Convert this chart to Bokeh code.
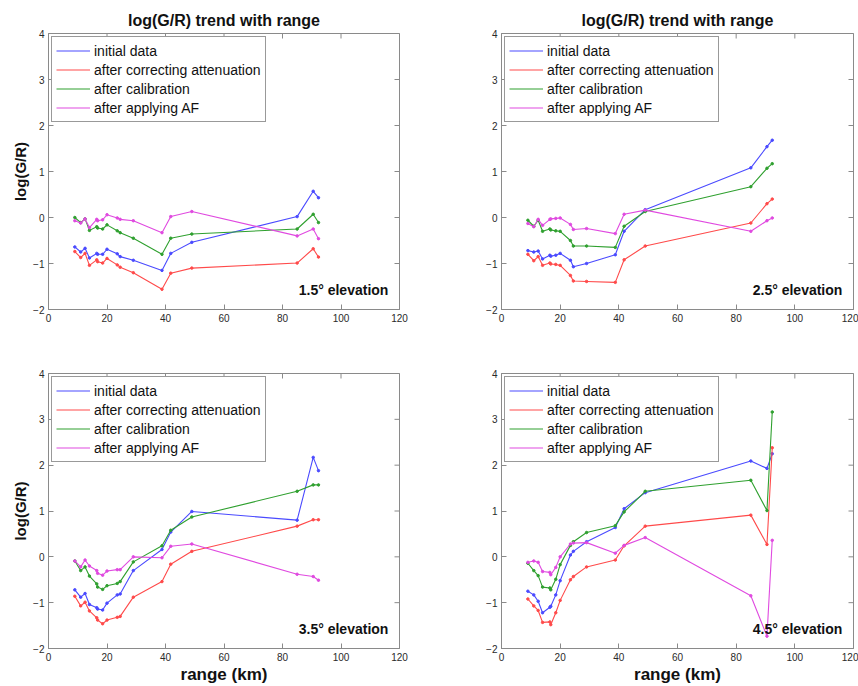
import math
from bokeh.plotting import figure
from bokeh.layouts import gridplot
from bokeh.models import Range1d, Label, Legend, LegendItem, FixedTicker
from bokeh.embed import file_html
from bokeh.resources import INLINE

# ---------------- data ----------------
range_km = [9, 11, 12.5, 14, 16.5, 16.8, 18.5, 20, 23.5, 24.5, 29, 38.8, 41.8, 49, 85, 90.5, 92.3]

series_names = ["initial data", "after correcting attenuation", "after calibration", "after applying AF"]
elevations = ["1.5° elevation", "2.5° elevation", "3.5° elevation", "4.5° elevation"]

e15_initial = [-0.64, -0.75, -0.67, -0.88, -0.78, -0.80, -0.80, -0.69, -0.79, -0.85, -0.93, -1.15, -0.78, -0.54, 0.02, 0.57, 0.43]
e15_atten = [-0.74, -0.87, -0.78, -1.04, -0.92, -0.96, -0.99, -0.89, -1.03, -1.08, -1.20, -1.56, -1.21, -1.10, -0.99, -0.68, -0.86]
e15_calib = [0.00, -0.11, -0.03, -0.28, -0.20, -0.23, -0.25, -0.16, -0.29, -0.33, -0.45, -0.80, -0.45, -0.36, -0.25, 0.07, -0.11]
e15_af = [-0.07, -0.12, -0.03, -0.22, -0.04, -0.07, -0.05, 0.06, -0.01, -0.04, -0.07, -0.33, 0.02, 0.13, -0.40, -0.25, -0.46]

e25_initial = [-0.72, -0.75, -0.73, -0.90, -0.82, -0.84, -0.82, -0.78, -0.93, -1.07, -1.00, -0.81, -0.30, 0.17, 1.08, 1.54, 1.68]
e25_atten = [-0.80, -0.94, -0.85, -1.04, -0.99, -1.01, -1.02, -1.04, -1.26, -1.38, -1.39, -1.41, -0.92, -0.62, -0.12, 0.30, 0.40]
e25_calib = [-0.06, -0.19, -0.06, -0.30, -0.25, -0.27, -0.29, -0.30, -0.50, -0.62, -0.62, -0.65, -0.19, 0.13, 0.67, 1.07, 1.17]
e25_af = [-0.13, -0.20, -0.04, -0.17, -0.04, -0.03, -0.02, -0.01, -0.15, -0.26, -0.24, -0.35, 0.07, 0.16, -0.30, -0.07, -0.01]

e35_initial = [-0.72, -0.88, -0.80, -1.04, -1.11, -1.14, -1.16, -1.01, -0.83, -0.81, -0.30, 0.16, 0.54, 0.99, 0.80, 2.17, 1.88]
e35_atten = [-0.86, -1.07, -0.99, -1.18, -1.33, -1.38, -1.46, -1.38, -1.32, -1.30, -0.88, -0.54, -0.16, 0.12, 0.67, 0.81, 0.81]
e35_calib = [-0.09, -0.30, -0.22, -0.42, -0.59, -0.66, -0.71, -0.63, -0.58, -0.54, -0.11, 0.24, 0.58, 0.87, 1.43, 1.57, 1.57]
e35_af = [-0.09, -0.22, -0.07, -0.20, -0.30, -0.36, -0.40, -0.31, -0.28, -0.28, 0.00, -0.02, 0.23, 0.28, -0.38, -0.43, -0.51]

e45_initial = [-0.75, -0.83, -0.97, -1.22, -1.10, -1.08, -0.83, -0.52, 0.04, 0.12, 0.33, 0.64, 1.05, 1.40, 2.09, 1.93, 2.25]
e45_atten = [-0.92, -1.07, -1.17, -1.43, -1.42, -1.48, -1.22, -0.95, -0.50, -0.43, -0.22, -0.07, 0.24, 0.67, 0.91, 0.27, 2.38]
e45_calib = [-0.14, -0.30, -0.41, -0.66, -0.68, -0.72, -0.49, -0.17, 0.25, 0.33, 0.53, 0.68, 0.98, 1.43, 1.67, 1.01, 3.16]
e45_af = [-0.12, -0.09, -0.12, -0.32, -0.34, -0.39, -0.23, 0.00, 0.28, 0.30, 0.31, 0.08, 0.25, 0.42, -0.85, -1.73, 0.36]

x_ticks = [0, 20, 40, 60, 80, 100, 120]
y_ticks = [-2, -1, 0, 1, 2, 3, 4]

# ---------------- style ----------------
FONT = "Liberation Sans"
COLORS = ["#4a4aff", "#ff4a4a", "#2fa02f", "#e04ae0"]
AXIS_COL = "#8a8a8a"
TEXT_COL = "#2a2a2a"


def style_axis(ax, ticks):
    ax.ticker = FixedTicker(ticks=ticks)
    ax.axis_line_color = AXIS_COL
    ax.major_tick_line_color = AXIS_COL
    ax.major_tick_in = 5
    ax.major_tick_out = 0
    ax.minor_tick_line_color = None
    ax.major_label_text_font = FONT
    ax.major_label_text_font_size = "10px"
    ax.major_label_text_color = TEXT_COL
    ax.major_label_standoff = 4


def make_panel(idx, data, width, height, mb_left, mb_right, mb_top, mb_bottom,
               title=None, ylabel=None, xlabel=None):
    p = figure(width=width, height=height, output_backend="svg", toolbar_location=None,
               x_range=Range1d(0, 120), y_range=Range1d(-2, 4),
               min_border_left=mb_left, min_border_right=mb_right,
               min_border_top=mb_top, min_border_bottom=mb_bottom,
               title=title)
    p.xgrid.visible = False
    p.ygrid.visible = False
    p.outline_line_color = AXIS_COL
    p.background_fill_color = "white"
    p.border_fill_color = "white"
    if title:
        p.title.align = "center"
        p.title.text_font = FONT
        p.title.text_font_size = "16px"
        p.title.text_font_style = "bold"
        p.title.text_color = "#111111"
        p.title.standoff = 9
    style_axis(p.xaxis[0], x_ticks)
    style_axis(p.yaxis[0], y_ticks)
    if ylabel:
        p.yaxis.axis_label = ylabel
        p.yaxis.axis_label_text_font = FONT
        p.yaxis.axis_label_text_font_size = "15px"
        p.yaxis.axis_label_text_font_style = "bold"
        p.yaxis.axis_label_text_color = "#111111"
        p.yaxis.axis_label_standoff = 1
    if xlabel:
        p.xaxis.axis_label = xlabel
        p.xaxis.axis_label_text_font = FONT
        p.xaxis.axis_label_text_font_size = "17px"
        p.xaxis.axis_label_text_font_style = "bold"
        p.xaxis.axis_label_text_color = "#111111"
        p.xaxis.axis_label_standoff = 1

    # inward ticks on the top and right edges of the box (clipped to the frame)
    p.scatter(x_ticks, [4] * len(x_ticks), marker="dash", angle=math.pi / 2, size=10,
              line_color=AXIS_COL, line_width=1)
    p.scatter([120] * len(y_ticks), y_ticks, marker="dash", size=10,
              line_color=AXIS_COL, line_width=1)

    items = []
    for name, ys, col in zip(series_names, data, COLORS):
        lr = p.line(range_km, ys, line_color=col, line_width=1.1)
        p.scatter(range_km, ys, size=2.5, fill_color=col, line_color=col)
        items.append(LegendItem(label=name, renderers=[lr]))
    legend = Legend(items=items, location="top_left")
    legend.margin = 3
    legend.padding = 4
    legend.spacing = 0
    legend.label_height = 19
    legend.glyph_height = 19
    legend.glyph_width = 34
    legend.label_standoff = 4
    legend.label_text_font = FONT
    legend.label_text_font_size = "14px"
    legend.label_text_color = "#111111"
    legend.border_line_color = "#333333"
    legend.border_line_width = 1
    legend.background_fill_alpha = 1.0
    p.add_layout(legend)

    p.add_layout(Label(x=116.2, y=-1.57, text=elevations[idx], text_align="right",
                       text_baseline="middle", text_font=FONT, text_font_size="14px",
                       text_font_style="bold", text_color="#111111"))
    return p


TITLE = "log(G/R) trend with range"
p1 = make_panel(0, [e15_initial, e15_atten, e15_calib, e15_af], 430, 340, 48, 31, 33, 31,
                title=TITLE, ylabel="log(G/R)")
p2 = make_panel(1, [e25_initial, e25_atten, e25_calib, e25_af], 428, 340, 71, 5, 33, 31,
                title=TITLE)
p3 = make_panel(2, [e35_initial, e35_atten, e35_calib, e35_af], 430, 346, 48, 31, 33, 35,
                ylabel="log(G/R)", xlabel="range (km)")
p4 = make_panel(3, [e45_initial, e45_atten, e45_calib, e45_af], 428, 346, 71, 5, 33, 35,
                xlabel="range (km)")

grid = gridplot([[p1, p2], [p3, p4]], toolbar_location=None)

open("out.html", "w").write(file_html(grid, INLINE))
